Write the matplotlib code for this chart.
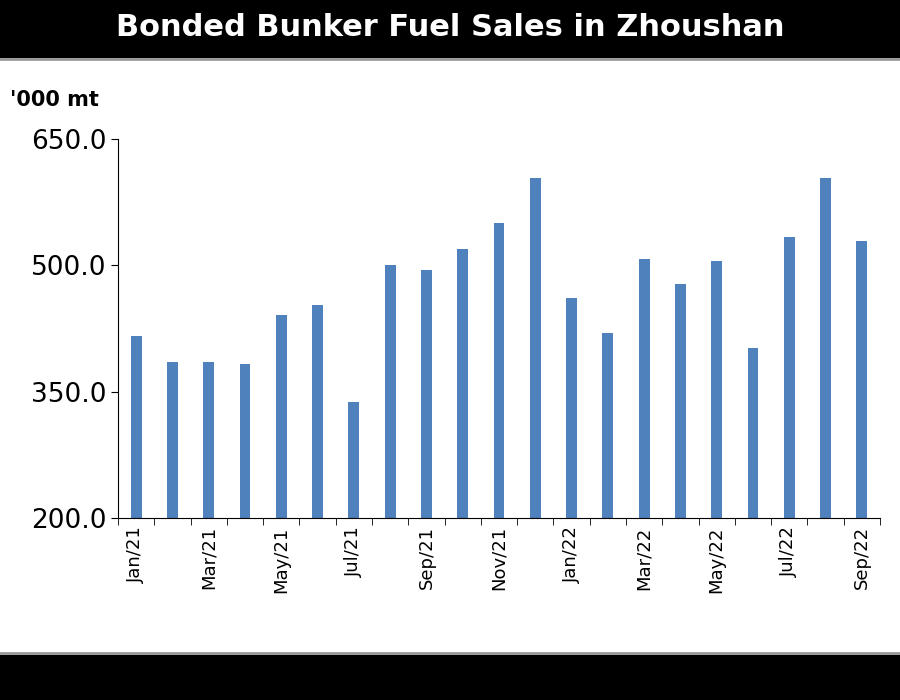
import matplotlib
matplotlib.use("Agg")
import matplotlib.pyplot as plt
import numpy as np

months = ["Jan/21", "Feb/21", "Mar/21", "Apr/21", "May/21", "Jun/21", "Jul/21",
          "Aug/21", "Sep/21", "Oct/21", "Nov/21", "Dec/21", "Jan/22", "Feb/22",
          "Mar/22", "Apr/22", "May/22", "Jun/22", "Jul/22", "Aug/22", "Sep/22"]
sales = [416, 385, 385, 383, 441, 453, 338, 500, 494, 519, 550, 604,
         461, 420, 507, 478, 505, 402, 534, 604, 529]

fig = plt.figure(figsize=(9, 7), dpi=100)
fig.patch.set_facecolor("white")

# black header / footer bands
fig.patches.append(plt.Rectangle((0, 1 - 57 / 700), 1, 57 / 700, transform=fig.transFigure,
                                 color="black", zorder=-1))
fig.patches.append(plt.Rectangle((0, 0), 1, 45 / 700, transform=fig.transFigure,
                                 color="black", zorder=-1))
fig.lines.append(plt.Line2D([0, 1], [1 - 59 / 700] * 2, transform=fig.transFigure,
                            color="#999999", lw=2))
fig.lines.append(plt.Line2D([0, 1], [47 / 700] * 2, transform=fig.transFigure,
                            color="#999999", lw=2))
fig.text(0.5, 1 - 27 / 700, "Bonded Bunker Fuel Sales in Zhoushan", ha="center",
         va="center", color="white", fontsize=22, fontweight="bold")
fig.text(10 / 900, 1 - 100 / 700, "'000 mt", fontsize=15, fontweight="bold",
         va="center")

ax = fig.add_axes([118 / 900, 1 - 518 / 700, 762 / 900, 379 / 700])
ax.patch.set_alpha(0)
x = np.arange(len(months))
ax.bar(x, sales, width=0.3, color="#4F81BD")
ax.set_ylim(200, 650)
ax.set_xlim(-0.5, len(months) - 0.5)
ax.set_yticks([200, 350, 500, 650])
ax.set_yticklabels([f"{v:.1f}" for v in [200, 350, 500, 650]], fontsize=19)
ax.set_xticks(x[::2])
ax.set_xticklabels(months[::2], rotation=90, fontsize=13)
ax.set_xticks(np.arange(-0.5, len(months)), minor=True)
ax.tick_params(axis="x", which="major", length=0, pad=6)
ax.tick_params(axis="x", which="minor", length=5, direction="out")
ax.tick_params(axis="y", length=5, direction="out")
for s in ["top", "right"]:
    ax.spines[s].set_visible(False)

fig.savefig("out.png", dpi=100)
